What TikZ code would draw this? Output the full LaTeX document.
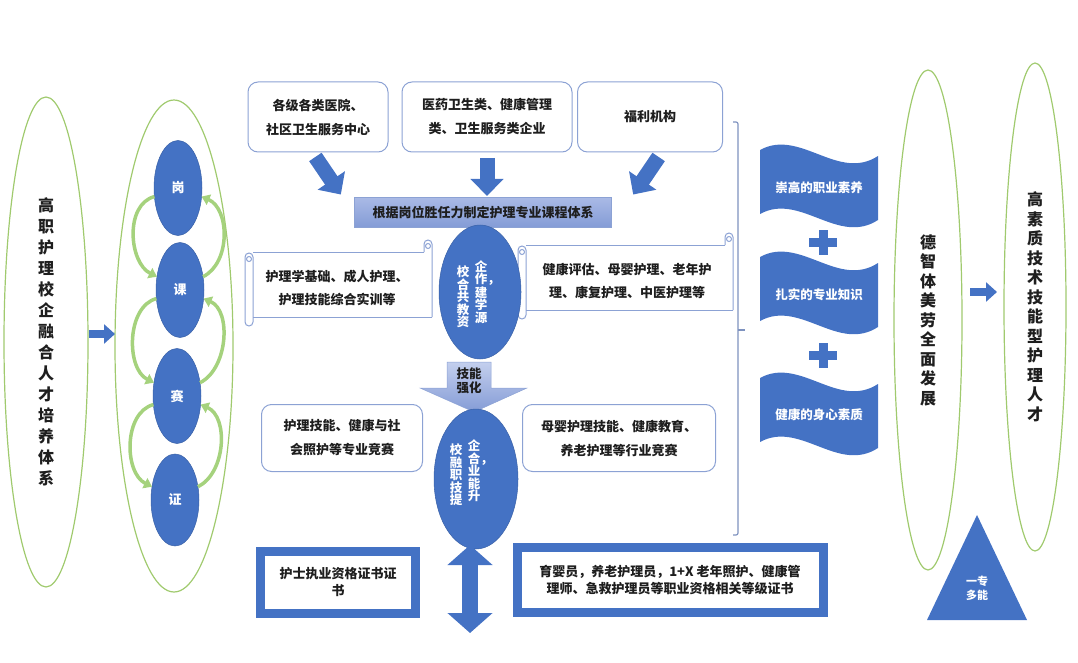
\documentclass[tikz,border=0pt]{standalone}
\usepackage{fontspec}
\setmainfont{Noto Sans CJK SC}
\usetikzlibrary{shapes.geometric,arrows.meta,calc}
\definecolor{myblue}{RGB}{68,114,196}
\definecolor{bord}{RGB}{140,162,212}
\definecolor{lgreen}{RGB}{160,202,110}
\definecolor{garr}{RGB}{165,210,125}
\definecolor{bantop}{RGB}{170,186,230}
\definecolor{banbot}{RGB}{132,156,214}
\definecolor{txt}{RGB}{30,30,30}
\newcommand\fs[2]{\fontsize{#1}{#2}\selectfont}
\newcommand\myscroll[4]{%
  \fill[white] (#1,#2) rectangle (#3,#4);
  \draw[scr] (#1+8,#2) -- (#3-8,#2);
  \draw[scr] (#1+8,#4) -- (#3,#4);
  \draw[scr,rounded corners=4pt] (#3-8,#2) -- (#3-8,#2-12) -- (#3,#2-12) -- (#3,#4);
  \draw[scr] (#3-4,#2-6) circle (2.5);
  \draw[scr,rounded corners=4pt] (#1+8,#4) -- (#1+8,#4+9) -- (#1,#4+9) -- (#1,#2+1) -- (#1+8,#2+1) -- (#1+8,#4);
  \draw[scr] (#1+4,#2+7) circle (2.5);
}
\newcommand\mywave[1]{%
  \fill[myblue] (760,#1) .. controls (800,#1-22) and (838,#1+32) .. (878,#1+6)
     -- (878,#1+70) .. controls (838,#1+96) and (800,#1+42) .. (760,#1+64) -- cycle;
}
\begin{document}
\begin{tikzpicture}[x=1pt,y=-1pt,
  every node/.style={inner sep=0pt,outer sep=0pt,text=txt},
  outerell/.style={ellipse,draw=lgreen,line width=1.2pt,align=center,font=\bfseries\fs{16}{21}},
  boval/.style={ellipse,fill=myblue,draw=myblue!85!black,line width=0.5pt,text=white,font=\bfseries\fs{13}{14}},
  ovcol/.style={align=center,text=white,font=\bfseries\fs{12.5}{12.5}},
  rbox/.style={rectangle,rounded corners=10pt,draw=bord,line width=1pt,fill=white,align=center,font=\bfseries\fs{13}{24}},
  cert/.style={rectangle,draw=myblue,line width=9pt,fill=white,align=center,font=\bfseries\fs{13}{17}},
  ctext/.style={align=center,font=\bfseries\fs{13}{23}},
  scr/.style={draw=bord,line width=1pt},
  blk/.style={line width=15pt,draw=myblue,-{Triangle[length=17pt,width=32pt]}},
  sblk/.style={line width=8pt,draw=myblue,-{Triangle[length=11pt,width=19pt]}},
  garrow/.style={draw=garr,line width=3.5pt,-{Triangle[length=8pt,width=11pt]}},
  wtext/.style={text=white,font=\bfseries\fs{12.5}{14}},
]
\useasboundingbox (0,0) rectangle (1078,663);

% ---- left ellipses
\node[outerell,minimum width=84,minimum height=490] (sys) at (46,342)
  {高\\职\\护\\理\\校\\企\\融\\合\\人\\才\\培\\养\\体\\系};
\node[outerell,minimum width=118,minimum height=492] (four) at (174,346) {};
\coordinate (la1) at (89,334);
\coordinate (la2) at (115,334);
\draw[sblk] (la1) -- (la2);

\node[boval,minimum width=48,minimum height=95] (gang) at (178,188) {岗};
\node[boval,minimum width=48,minimum height=95] (ke) at (180,290) {课};
\node[boval,minimum width=48,minimum height=95] (sai) at (177,396) {赛};
\node[boval,minimum width=48,minimum height=92] (zheng) at (175,500) {证};

\foreach \a/\b in {gang/ke,ke/sai,sai/zheng}{
  \draw[garrow] (\a.200) .. controls +(-30,8) and +(-28,-14) .. (\b.150);
  \draw[garrow] (\b.30) .. controls +(28,-14) and +(28,12) .. (\a.340);
}

% ---- top boxes
\node[rbox,minimum width=140,minimum height=70] (hosp) at (318,117) {各级各类医院、\\社区卫生服务中心};
\node[rbox,minimum width=170,minimum height=70] (comp) at (487,117) {医药卫生类、健康管理\\类、卫生服务类企业};
\node[rbox,minimum width=145,minimum height=70] (welf) at (650,117) {福利机构};
\node[rectangle,top color=bantop,bottom color=banbot,draw=bord,line width=0.5pt,
      minimum width=257,minimum height=30,font=\bfseries\fs{13}{14}] (course) at (483,212)
  {根据岗位胜任力制定护理专业课程体系};
\draw[blk,shorten <=6pt,shorten >=3pt] ([xshift=-6pt]hosp.south) -- ([xshift=-12pt]course.north west);
\draw[blk,shorten <=6pt,shorten >=1pt] (comp.south) -- ([xshift=4pt]course.north);
\draw[blk,shorten <=6pt,shorten >=3pt] ([xshift=12pt]welf.south) -- ([xshift=20pt]course.north east);

% ---- scrolls
\myscroll{245}{252}{432}{317}
\node[ctext] (scrl) at (337,288) {护理学基础、成人护理、\\护理技能综合实训等};
\myscroll{518}{245}{733}{310}
\node[ctext] (scrr) at (627,281) {健康评估、母婴护理、老年护\\理、康复护理、中医护理等};

% ---- oval 1
\node[boval,minimum width=82,minimum height=134] (res) at (480,292) {};
\node[ovcol] (resL) at (463,297) {校\\合\\共\\教\\资};
\node[ovcol] (resR) at (481,292) {企\\作\rlap{，}\\建\\学\\源};

% ---- skill arrow
\path[top color=bantop!70,bottom color=banbot,draw=bord,line width=0.5pt]
  (447,362) -- (491,362) -- (491,388) -- (527,388) -- (474,412) -- (420,388) -- (447,388) -- cycle;
\node[font=\bfseries\fs{12.5}{13.5},align=center] (skill) at (469,381) {技能\\强化};

% ---- oval 2
\node[boval,minimum width=84,minimum height=140] (fuse) at (476,479) {};
\node[ovcol] (fuseL) at (456,475) {校\\融\\职\\技\\提};
\node[ovcol] (fuseR) at (474,471) {企\\合\rlap{，}\\业\\能\\升};

% ---- competitions
\node[rbox,minimum width=161,minimum height=67] (compL) at (342,438) {护理技能、健康与社\\会照护等专业竞赛};
\node[rbox,minimum width=193,minimum height=67] (compR) at (619,438) {母婴护理技能、健康教育、\\养老护理等行业竞赛};

% ---- certificates
\node[cert,minimum width=155,minimum height=62] (certL) at (338,582) {护士执业资格证书证\\书};
\node[cert,minimum width=306,minimum height=65] (certR) at (670,580)
  {育婴员，养老护理员，1+X 老年照护、健康管\\理师、急救护理员等职业资格相关等级证书};
\coordinate (dtop) at (470,545);
\coordinate (dbot) at (470,633);
\draw[line width=16pt,draw=myblue,{Triangle[length=20pt,width=44pt]}-{Triangle[length=20pt,width=44pt]}] (dtop) -- (dbot);

% ---- bracket
\draw[draw=bord!90!black,line width=1.2pt,rounded corners=2pt] (733,122) -- (738,122) -- (738,535) -- (733,535);
\draw[draw=bord!90!black,line width=1.2pt] (738,330) -- (745,330);

% ---- waves
\mywave{150}
\mywave{257}
\mywave{378}
\node[wtext] (w1) at (819,188) {崇高的职业素养};
\node[wtext] (w2) at (819,295) {扎实的专业知识};
\node[wtext] (w3) at (819,415) {健康的身心素质};
\fill[myblue] (809,238) rectangle (837,247);
\fill[myblue] (818.5,230) rectangle (827.5,255);
\fill[myblue] (809,351) rectangle (837,360);
\fill[myblue] (818.5,343) rectangle (827.5,368);

% ---- right ellipses
\node[outerell,minimum width=68,minimum height=500,font=\bfseries\fs{16}{19.5}] (dev) at (928,320)
  {德\\智\\体\\美\\劳\\全\\面\\发\\展};
\node[outerell,minimum width=62,minimum height=488,font=\bfseries\fs{16}{19.5}] (talent) at (1035,307)
  {高\\素\\质\\技\\术\\技\\能\\型\\护\\理\\人\\才};
\draw[sblk,shorten <=8pt,shorten >=7pt] (dev.east |- 0,292) -- (talent.west |- 0,292);

\fill[myblue] (977,515) -- (1027,620) -- (927,620) -- cycle;
\node[text=white,font=\bfseries\fs{11}{14},align=center] (tri) at (977,588) {一专\\多能};
\end{tikzpicture}
\end{document}
